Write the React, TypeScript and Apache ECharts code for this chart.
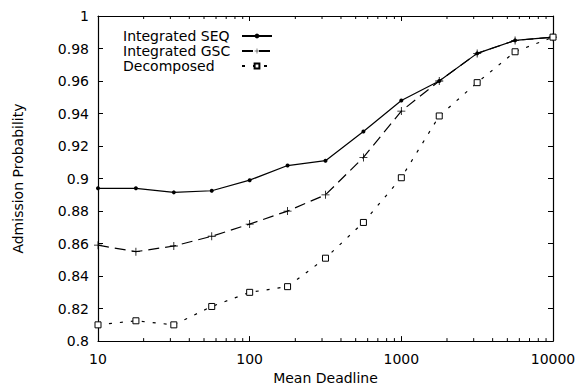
import React, { useEffect, useRef } from "react";
import * as echarts from "echarts";

const deadlines = [10, 17.78, 31.62, 56.23, 100, 177.8, 316.2, 562.3, 1000, 1778, 3162, 5623, 10000];
const seqValues = [0.894, 0.894, 0.8915, 0.8925, 0.899, 0.908, 0.911, 0.929, 0.948, 0.96, 0.977, 0.985, 0.987];
const gscValues = [0.859, 0.855, 0.8585, 0.8645, 0.872, 0.88, 0.89, 0.913, 0.9415, 0.96, 0.977, 0.985, 0.987];
const decValues = [0.81, 0.8125, 0.81, 0.8213, 0.83, 0.8335, 0.851, 0.873, 0.9005, 0.9385, 0.959, 0.978, 0.987];
const minorTickValues = [20, 30, 40, 50, 60, 70, 80, 90, 200, 300, 400, 500, 600, 700, 800, 900, 2000, 3000, 4000, 5000, 6000, 7000, 8000, 9000];
const seriesNames = ["Integrated SEQ", "Integrated GSC", "Decomposed"];

const FONT = "DejaVu Sans";

export default function App() {
  const ref = useRef<HTMLDivElement>(null);
  useEffect(() => {
    if (!ref.current) return;
    const chart = echarts.init(ref.current, null, { renderer: "svg" });
    const pairs = (vals: number[]) => deadlines.map((d, i) => [d, vals[i]]);
    const plusPath = "path://M4.5,0h1v4.5h4.5v1h-4.5v4.5h-1v-4.5h-4.5v-1h4.5z";
    const axisLine = { show: true, lineStyle: { color: "#000", width: 1.2 } };
    chart.setOption({
      animation: false,
      backgroundColor: "#fff",
      grid: { left: 98, right: 29, top: 16, bottom: 46, containLabel: false },
      legend: {
        left: 118,
        top: 24,
        orient: "vertical",
        align: "right",
        itemWidth: 30,
        itemHeight: 6,
        itemGap: 1,
        data: seriesNames,
        formatter: (name: string) => "{a|" + name + "}",
        textStyle: {
          fontFamily: FONT,
          fontSize: 14,
          color: "#000",
          rich: { a: { width: 114, align: "left", fontFamily: FONT, fontSize: 14, color: "#000", height: 16 } },
        },
        selectedMode: false,
      },
      xAxis: [
        {
          type: "log",
          logBase: 10,
          min: 10,
          max: 10000,
          position: "bottom",
          name: "Mean Deadline",
          nameLocation: "middle",
          nameGap: 29,
          nameTextStyle: { fontFamily: FONT, fontSize: 14, color: "#000" },
          axisLine,
          axisTick: { show: true, inside: true, length: 5, lineStyle: { color: "#000" } },
          axisLabel: {
            fontFamily: FONT,
            fontSize: 14,
            color: "#000",
            margin: 11,
            formatter: (v: number) => String(Math.round(v)),
          },
          splitLine: { show: false },
        },
        {
          type: "log",
          logBase: 10,
          min: 10,
          max: 10000,
          position: "top",
          axisLine,
          axisTick: { show: true, inside: true, length: 5, lineStyle: { color: "#000" } },
          axisLabel: { show: false },
          splitLine: { show: false },
        },
      ],
      yAxis: [
        {
          type: "value",
          min: 0.8,
          max: 1,
          interval: 0.02,
          position: "left",
          name: "Admission Probability",
          nameLocation: "middle",
          nameGap: 73,
          nameTextStyle: { fontFamily: FONT, fontSize: 14, color: "#000" },
          axisLine,
          axisTick: { show: true, inside: true, length: 5, lineStyle: { color: "#000" } },
          axisLabel: {
            fontFamily: FONT,
            fontSize: 14,
            color: "#000",
            margin: 9,
            formatter: (v: number) => String(parseFloat(v.toFixed(2))),
          },
          splitLine: { show: false },
        },
        {
          type: "value",
          min: 0.8,
          max: 1,
          interval: 0.02,
          position: "right",
          axisLine,
          axisTick: { show: true, inside: true, length: 5, lineStyle: { color: "#000" } },
          axisLabel: { show: false },
          splitLine: { show: false },
        },
      ],
      series: [
        {
          name: seriesNames[0],
          type: "line",
          data: pairs(seqValues),
          symbol: "circle",
          symbolSize: 4,
          lineStyle: { color: "#000", width: 1.2, type: "solid" },
          itemStyle: { color: "#000" },
        },
        {
          name: seriesNames[1],
          type: "line",
          data: pairs(gscValues),
          symbol: plusPath,
          symbolSize: 8,
          lineStyle: { color: "#000", width: 1.2, type: [11, 6] },
          itemStyle: { color: "#000" },
        },
        {
          name: seriesNames[2],
          type: "line",
          data: pairs(decValues),
          symbol: "rect",
          symbolSize: 6,
          lineStyle: { color: "#000", width: 1.2, type: [3, 8] },
          itemStyle: { color: "#fff", borderColor: "#000", borderWidth: 1 },
        },
        {
          type: "custom",
          silent: true,
          clip: false,
          data: minorTickValues.map((v) => [v]),
          renderItem: (params: any, api: any) => {
            const v = api.value(0);
            const b = api.coord([v, 0.8]);
            const t = api.coord([v, 1]);
            const style = { stroke: "#000", lineWidth: 1 };
            return {
              type: "group",
              children: [
                { type: "line", shape: { x1: b[0], y1: b[1], x2: b[0], y2: b[1] - 3 }, style },
                { type: "line", shape: { x1: t[0], y1: t[1], x2: t[0], y2: t[1] + 3 }, style },
              ],
            };
          },
        },
      ],
    });
    return () => chart.dispose();
  }, []);
  return (
    <div
      ref={ref}
      style={{ position: "fixed", left: 0, top: 0, width: 582, height: 390, background: "#fff" }}
    />
  );
}
